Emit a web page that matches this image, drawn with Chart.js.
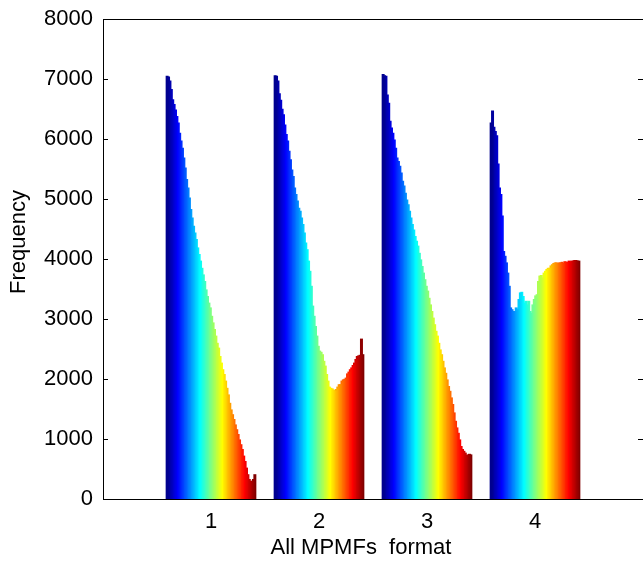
<!DOCTYPE html>
<html>
<head>
<meta charset="utf-8">
<script src="https://cdn.jsdelivr.net/npm/chart.js@4/dist/chart.umd.min.js"></script>
<style>
  html, body { margin: 0; padding: 0; background: #fff; }
  canvas { display: block; }
</style>
</head>
<body>
<canvas id="myChart" width="643" height="561" style="width:643px;height:561px"></canvas>
<script>
// x slots 0..5, only 1..4 hold bars (MATLAB axis runs 0..5)
var categories = ['0', '1', '2', '3', '4', '5'];
var yTicks = [0, 1000, 2000, 3000, 4000, 5000, 6000, 7000, 8000];
var xTitle = 'All MPMFs  format';
var yTitle = 'Frequency';

// 64 bars per format, one per colormap step
var format1 = [7040, 7030, 6960, 6820, 6650, 6570, 6480, 6370, 6260, 6090, 5960, 5840, 5680, 5510, 5320, 5180,
               5010, 4820, 4680, 4540, 4430, 4320, 4180, 4070, 3960, 3840, 3730, 3620, 3480, 3370, 3260, 3180,
               3040, 2930, 2820, 2710, 2590, 2510, 2370, 2260, 2150, 2070, 1960, 1840, 1730, 1590, 1480, 1400,
               1320, 1230, 1150, 1070, 980, 900, 820, 710, 620, 510, 400, 320, 290, 290, 320, 400];
var format2 = [7050, 7040, 6960, 6750, 6640, 6490, 6400, 6230, 6070, 5960, 5790, 5650, 5480, 5370, 5180, 5070,
               4960, 4840, 4790, 4680, 4570, 4430, 4260, 4150, 3960, 3790, 3540, 3210, 3040, 2870, 2710, 2540,
               2460, 2440, 2400, 2290, 2210, 2070, 1960, 1860, 1840, 1830, 1810, 1790, 1820, 1860, 1900, 1900,
               1960, 1980, 1990, 2010, 2080, 2110, 2150, 2180, 2220, 2260, 2320, 2370, 2380, 2390, 2660, 2400];
var format3 = [7070, 7050, 7040, 6730, 6590, 6290, 6180, 6090, 5980, 5840, 5680, 5620, 5540, 5430, 5290, 5210,
               5090, 4980, 4900, 4790, 4680, 4570, 4480, 4370, 4290, 4210, 4090, 3980, 3870, 3760, 3650, 3540,
               3460, 3340, 3230, 3120, 3010, 2900, 2790, 2710, 2590, 2480, 2400, 2290, 2180, 2090, 1980, 1870,
               1790, 1680, 1570, 1430, 1290, 1180, 1090, 980, 870, 820, 790, 760, 720, 730, 740, 730];
var format4 = [6260, 6460, 6190, 6120, 6050, 5580, 5180, 5070, 4710, 4120, 4040, 3930, 3760, 3540, 3180, 3150,
               3120, 3120, 3180, 3150, 3320, 3430, 3440, 3370, 3260, 3290, 3230, 3290, 3120, 3090, 3230, 3320,
               3380, 3400, 3620, 3710, 3720, 3680, 3760, 3790, 3820, 3840, 3840, 3880, 3900, 3920, 3930, 3930,
               3920, 3930, 3930, 3940, 3920, 3950, 3940, 3940, 3960, 3950, 3960, 3960, 3970, 3970, 3960, 3960];

// MATLAB jet colormap
function jet(m) {
    var n = Math.ceil(m / 4);
    var u = [], i;
    for (i = 1; i <= n; i++) u.push(i / n);
    for (i = 0; i < n - 1; i++) u.push(1);
    for (i = n; i >= 1; i--) u.push(i / n);
    var g0 = Math.ceil(n / 2) - (m % 4 === 1 ? 1 : 0);
    var cols = [];
    for (i = 0; i < m; i++) cols.push([0, 0, 0]);
    for (var k = 0; k < u.length; k++) {
        var g = g0 + k + 1, r = g + n, b = g - n;
        if (r <= m) cols[r - 1][0] = u[k];
        if (g <= m) cols[g - 1][1] = u[k];
        if (b >= 1) cols[b - 1][2] = u[k];
    }
    return cols.map(function (c) {
        return 'rgb(' + Math.round(c[0] * 255) + ',' + Math.round(c[1] * 255) + ',' + Math.round(c[2] * 255) + ')';
    });
}

var colors = jet(format1.length);
var datasets = [];
for (var i = 0; i < format1.length; i++) {
    datasets.push({
        label: 'bin ' + (i + 1),
        data: [null, format1[i], format2[i], format3[i], format4[i], null],
        backgroundColor: colors[i],
        borderWidth: 0,
        inflateAmount: 0.8
    });
}

var FONT = '"Liberation Sans", Arial, sans-serif';

// box, inward ticks and axis titles like the MATLAB figure
var frame = {
    id: 'frame',
    afterDatasetsDraw: function (chart) {
        var ctx = chart.ctx, a = chart.chartArea, y = chart.scales.y;
        ctx.save();
        ctx.strokeStyle = '#000';
        ctx.lineWidth = 1;
        ctx.strokeRect(a.left + 0.5, a.top + 0.5, a.right - a.left, a.bottom - a.top);
        ctx.beginPath();
        yTicks.forEach(function (v) {
            var p = Math.round(y.getPixelForValue(v)) + 0.5;
            ctx.moveTo(a.left, p); ctx.lineTo(a.left + 5, p);
            ctx.moveTo(a.right - 5, p); ctx.lineTo(a.right, p);
        });
        ctx.stroke();
        ctx.fillStyle = '#000';
        ctx.font = '22px ' + FONT;
        ctx.textAlign = 'center';
        ctx.textBaseline = 'middle';
        ctx.fillText(xTitle, (a.left + a.right) / 2 - 12, a.bottom + 49);
        ctx.translate(a.left - 84, (a.top + a.bottom) / 2 - 17);
        ctx.rotate(-Math.PI / 2);
        ctx.fillText(yTitle, 0, 0);
        ctx.restore();
    }
};

var ctx = document.getElementById('myChart').getContext('2d');
var myChart = new Chart(ctx, {
    type: 'bar',
    data: {
        labels: categories,
        datasets: datasets
    },
    options: {
        responsive: false,
        animation: false,
        layout: { padding: { top: 19, right: 0, left: 0, bottom: 0 } },
        datasets: {
            bar: { categoryPercentage: 0.825, barPercentage: 1.0 }
        },
        plugins: {
            legend: { display: false },
            tooltip: { enabled: false }
        },
        scales: {
            x: {
                offset: false,
                grid: { display: false },
                border: { display: false },
                ticks: {
                    autoSkip: false,
                    maxRotation: 0,
                    padding: 2,
                    color: '#000',
                    font: { family: FONT, size: 22 },
                    callback: function (v, idx) {
                        return (idx === 0 || idx === categories.length - 1) ? '' : categories[idx];
                    }
                },
                afterFit: function (s) {
                    s.height = 62;
                    s.paddingLeft = 0;
                    s.paddingRight = 0;
                }
            },
            y: {
                min: 0,
                max: 8000,
                grid: { display: false, drawTicks: false },
                border: { display: false },
                ticks: {
                    stepSize: 1000,
                    padding: 10,
                    color: '#000',
                    font: { family: FONT, size: 22 },
                    callback: function (v) { return String(v); }
                },
                afterBuildTicks: function (s) {
                    s.ticks = yTicks.map(function (v) { return { value: v }; });
                },
                afterFit: function (s) {
                    s.width = 103;
                    s.paddingTop = 0;
                    s.paddingBottom = 0;
                }
            }
        }
    },
    plugins: [frame]
});
</script>
</body>
</html>
